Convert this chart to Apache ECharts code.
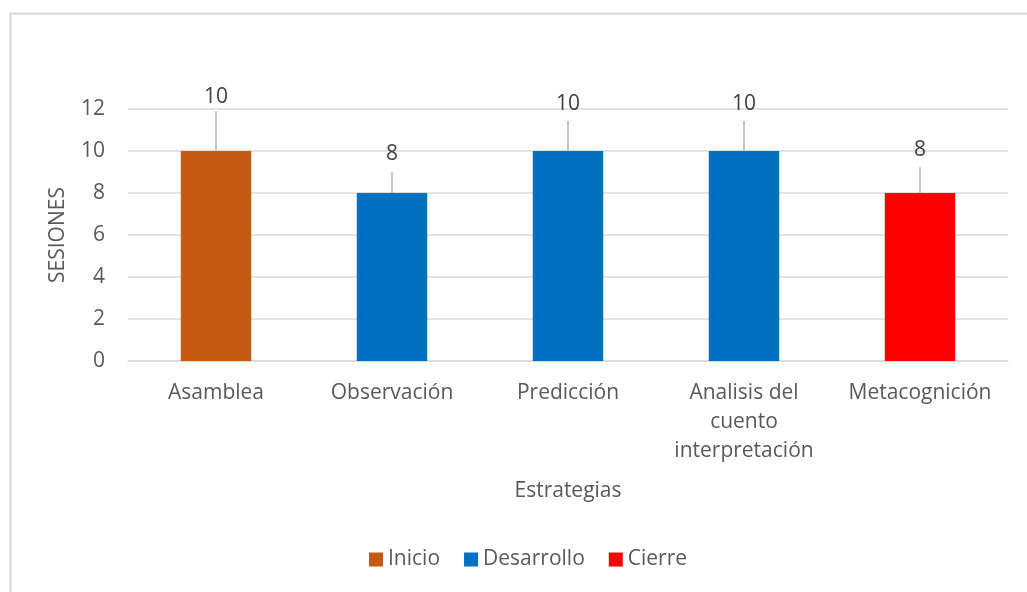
<!DOCTYPE html>
<html>
<head>
<meta charset="utf-8">
<script src="https://cdn.jsdelivr.net/npm/echarts@6/dist/echarts.min.js"></script>
<style>
html,body{margin:0;padding:0;background:#fff;overflow:hidden;}
#c{width:1027px;height:592px;}
</style>
</head>
<body>
<div id="c"></div>
<script>
const categories = ['Asamblea', 'Observación', 'Predicción', 'Analisis del\ncuento\ninterpretación', 'Metacognición'];
const inicio = [10, '-', '-', '-', '-'];
const desarrollo = ['-', 8, 10, 10, '-'];
const cierre = ['-', '-', '-', '-', 8];
const yTicks = [0, 2, 4, 6, 8, 10, 12];

// style only: label lift and leader-line length (px) per category
const labelLift = [-41.5, -26.5, -34, -34, -30];
const leaderLen = [40, 21, 30, 30, 26];

const FONT = 'Open Sans';
const TXT = '#595959';
const FS = 21;

function bar(name, data, color) {
  return {
    name: name, type: 'bar', stack: 'all', data: data, barWidth: '40%',
    itemStyle: { color: color },
    label: { show: true, position: 'top', distance: 2, color: '#404040', fontFamily: FONT, fontSize: FS },
    labelLayout: function (p) { return { dy: labelLift[p.dataIndex] }; }
  };
}

// leader line data built from the series values
const totals = categories.map(function (c, i) {
  const v = [inicio[i], desarrollo[i], cierre[i]].filter(function (x) { return typeof x === 'number'; });
  return [i, v.reduce(function (a, b) { return a + b; }, 0)];
});

const chart = echarts.init(document.getElementById('c'), null, { renderer: 'canvas' });
chart.setOption({
  animation: false,
  textStyle: { fontFamily: FONT },
  graphic: [{ type: 'rect', left: 8, top: 11, shape: { width: 1100, height: 700 }, style: { fill: 'none', stroke: '#d9d9d9', lineWidth: 2 }, silent: true }],
  grid: { left: 128, right: 19, top: 109, bottom: 231, containLabel: false },
  legend: {
    bottom: 17, left: 364, itemWidth: 14, itemHeight: 14, itemGap: 24,
    icon: 'rect', textStyle: { color: TXT, fontSize: FS, fontFamily: FONT },
    data: ['Inicio', 'Desarrollo', 'Cierre']
  },
  xAxis: {
    type: 'category', data: categories,
    name: 'Estrategias', nameLocation: 'middle', nameGap: 120,
    nameTextStyle: { color: TXT, fontSize: FS, fontFamily: FONT },
    axisLine: { show: true, lineStyle: { color: '#d9d9d9', width: 1.5 } },
    axisTick: { show: false },
    axisLabel: { color: TXT, fontSize: FS, fontFamily: FONT, lineHeight: 29, margin: 18, interval: 0 }
  },
  yAxis: {
    type: 'value', min: 0, max: 12, interval: 2,
    name: 'SESIONES', nameLocation: 'middle', nameGap: 59, nameRotate: 90,
    nameTextStyle: { color: TXT, fontSize: FS, fontFamily: FONT },
    axisLine: { show: false }, axisTick: { show: false },
    axisLabel: { color: TXT, fontSize: FS, fontFamily: FONT, margin: 23,
      formatter: function (v) { return yTicks.indexOf(v) >= 0 ? String(v) : ''; } },
    splitLine: { lineStyle: { color: '#d9d9d9', width: 1.5 } }
  },
  series: [
    bar('Inicio', inicio, '#C55A11'),
    bar('Desarrollo', desarrollo, '#0070C0'),
    bar('Cierre', cierre, '#FF0000'),
    {
      type: 'custom', name: 'leader', silent: true, z: 5,
      data: totals,
      renderItem: function (params, api) {
        const p = api.coord([api.value(0), api.value(1)]);
        const len = leaderLen[params.dataIndex];
        return {
          type: 'line',
          shape: { x1: p[0], y1: p[1], x2: p[0], y2: p[1] - len },
          style: { stroke: '#a6a6a6', lineWidth: 1.3 }
        };
      }
    }
  ]
});
</script>
</body>
</html>
